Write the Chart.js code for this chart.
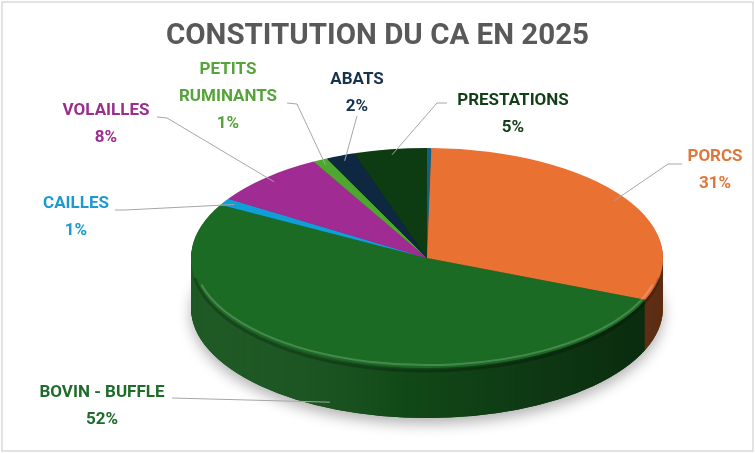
<!DOCTYPE html>
<html>
<head>
<meta charset="utf-8">
<script src="https://cdn.jsdelivr.net/npm/chart.js@4.4.1/dist/chart.umd.min.js"></script>
<style>
  html, body { margin: 0; padding: 0; background: #fff; }
  #wrap { width: 755px; height: 453px; }
</style>
</head>
<body>
<div id="wrap"><canvas id="pie"></canvas></div>
<script>
// ===============================
// DATA
// ===============================
const categories = ["AUTRES", "PORCS", "BOVIN - BUFFLE", "CAILLES", "VOLAILLES", "PETITS RUMINANTS", "ABATS", "PRESTATIONS"];
const shares = [0.3, 31, 52, 1, 8, 1, 2, 5];
const sliceColors = ["#156082", "#E97132", "#1B6B24", "#0F9ED5", "#A02B93", "#4EA72E", "#0E2841", "#0D3B12"];
const labelColors = ["#156082", "#E0773A", "#1E6B2A", "#1C9AD0", "#9B2D8F", "#55A33A", "#17324D", "#123F17"];

// ===============================
// LAYOUT (3D look + label boxes)
// ===============================
const CX = 427, CY = 258, RX = 236, RY = 110, DEPTH = 50;
const LINE_H = 27;
const labelLayout = [
  null,
  { x: 715, y: 157, line: [[682, 164], [668, 164]] },
  { x: 102, y: 393, line: [[172, 398]] },
  { x: 76, y: 204, line: [[115, 210], [125, 210]] },
  { x: 106, y: 111, line: [[157, 117], [167, 118]] },
  { x: 228, y: 70, wrap: true, line: [[287, 103], [297, 104]] },
  { x: 357, y: 80, line: [[357, 116]] },
  { x: 513, y: 101, line: [[447, 103], [437, 103]] }
];

function darken(hex, f) {
  const n = parseInt(hex.slice(1), 16);
  const r = Math.round(((n >> 16) & 255) * f);
  const g = Math.round(((n >> 8) & 255) * f);
  const b = Math.round((n & 255) * f);
  return `rgb(${r},${g},${b})`;
}

function toPie(ctx, arc, dy) {
  const R = arc.outerRadius;
  ctx.translate(CX, CY + dy);
  ctx.scale(RX / R, RY / R);
  ctx.translate(-arc.x, -arc.y);
}

// ===============================
// 3D PIE PLUGIN
// ===============================
const pie3d = {
  id: "pie3d",
  beforeDraw(chart) {
    const ctx = chart.ctx;
    ctx.save();
    ctx.strokeStyle = "#d9d9d9";
    ctx.lineWidth = 1.5;
    ctx.strokeRect(2, 2, chart.width - 4, chart.height - 4);
    ctx.restore();
  },
  beforeDatasetsDraw(chart) {
    const ctx = chart.ctx;
    const arcs = chart.getDatasetMeta(0).data;

    // soft shadow under the pie
    ctx.save();
    ctx.shadowColor = "rgba(0,0,0,0.3)";
    ctx.shadowBlur = 14;
    ctx.shadowOffsetY = 6;
    ctx.beginPath();
    ctx.ellipse(CX, CY + DEPTH, RX, RY, 0, 0, Math.PI * 2);
    ctx.fillStyle = "#123d15";
    ctx.fill();
    ctx.restore();

    // side walls
    for (let d = DEPTH; d >= 1; d--) {
      arcs.forEach((arc, i) => {
        ctx.save();
        toPie(ctx, arc, d);
        ctx.beginPath();
        ctx.moveTo(arc.x, arc.y);
        ctx.arc(arc.x, arc.y, arc.outerRadius, arc.startAngle, arc.endAngle);
        ctx.closePath();
        ctx.fillStyle = darken(sliceColors[i], 0.78);
        ctx.fill();
        ctx.restore();
      });
    }

    // shading on the side band
    ctx.save();
    ctx.beginPath();
    ctx.moveTo(CX + RX, CY);
    ctx.lineTo(CX + RX, CY + DEPTH);
    ctx.ellipse(CX, CY + DEPTH, RX, RY, 0, 0, Math.PI);
    ctx.lineTo(CX - RX, CY);
    ctx.ellipse(CX, CY, RX, RY, 0, Math.PI, 0, true);
    ctx.closePath();
    ctx.clip();
    const g = ctx.createLinearGradient(CX - RX, 0, CX + RX, 0);
    g.addColorStop(0, "rgba(255,255,255,0.04)");
    g.addColorStop(0.45, "rgba(0,0,0,0.12)");
    g.addColorStop(1, "rgba(0,0,0,0.5)");
    ctx.fillStyle = g;
    ctx.fillRect(CX - RX - 2, CY, RX * 2 + 4, RY + DEPTH + 4);
    ctx.restore();

    // top face drawn by the library under the transform
    ctx.save();
    toPie(ctx, arcs[0], 0);
  },
  afterDatasetsDraw(chart) {
    const ctx = chart.ctx;
    ctx.restore();

    // rim highlight
    ctx.save();
    ctx.beginPath();
    ctx.ellipse(CX, CY + 3, RX - 1, RY, 0, 0.05 * Math.PI, 0.95 * Math.PI);
    ctx.strokeStyle = "rgba(0,0,0,0.22)";
    ctx.lineWidth = 3;
    ctx.stroke();
    ctx.beginPath();
    ctx.ellipse(CX, CY, RX - 3, RY - 3, 0, 0.08 * Math.PI, 0.92 * Math.PI);
    ctx.strokeStyle = "rgba(255,255,255,0.2)";
    ctx.lineWidth = 2;
    ctx.stroke();
    ctx.restore();
  },
  afterDraw(chart) {
    const ctx = chart.ctx;
    const arcs = chart.getDatasetMeta(0).data;
    const total = shares.reduce((a, b) => a + b, 0);

    arcs.forEach((arc, i) => {
      const pct = Math.round(shares[i] / total * 100);
      const lay = labelLayout[i];
      if (!lay || pct === 0) return;

      // leader line to the slice
      const a = (arc.startAngle + arc.endAngle) / 2;
      let ax = CX + RX * 0.95 * Math.cos(a);
      let ay = CY + RY * 0.95 * Math.sin(a);
      if (Math.sin(a) > 0.6) ay += DEPTH;

      ctx.save();
      ctx.strokeStyle = "#a6a6a6";
      ctx.lineWidth = 1;
      ctx.beginPath();
      ctx.moveTo(lay.line[0][0], lay.line[0][1]);
      lay.line.slice(1).forEach(p => ctx.lineTo(p[0], p[1]));
      ctx.lineTo(ax, ay);
      ctx.stroke();

      // text
      const lines = lay.wrap ? categories[i].split(" ") : [categories[i]];
      lines.push(pct + "%");
      ctx.fillStyle = labelColors[i];
      ctx.font = "bold 17px Roboto";
      ctx.textAlign = "center";
      ctx.textBaseline = "middle";
      lines.forEach((t, k) => ctx.fillText(t, lay.x, lay.y + k * LINE_H));
      ctx.restore();
    });
  }
};

// ===============================
// CHART
// ===============================
new Chart(document.getElementById("pie"), {
  type: "pie",
  data: {
    labels: categories,
    datasets: [{
      data: shares,
      backgroundColor: sliceColors,
      borderWidth: 0
    }]
  },
  options: {
    responsive: true,
    maintainAspectRatio: false,
    animation: false,
    events: [],
    plugins: {
      legend: { display: false },
      tooltip: { enabled: false },
      title: {
        display: true,
        text: "CONSTITUTION DU CA EN 2025",
        color: "#595959",
        font: { family: "Roboto", size: 29.5, weight: "bold" },
        padding: { top: 19, bottom: 10 }
      }
    }
  },
  plugins: [pie3d]
});
</script>
</body>
</html>
